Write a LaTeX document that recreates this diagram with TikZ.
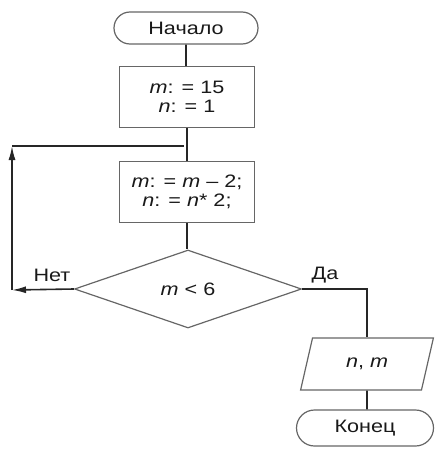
\documentclass[tikz,border=0pt]{standalone}
\usepackage{fontspec}
\setmainfont[FakeStretch=1.2]{Liberation Sans}
\usetikzlibrary{shapes,arrows.meta,positioning,calc}

\begin{document}
\begin{tikzpicture}[x=1pt, y=-1pt,
  font=\fontsize{18}{18.5}\selectfont, text=black!90,
  terminal/.style={draw=black!60, line width=1.2pt, rounded rectangle, minimum width=144pt, minimum height=32pt, inner sep=0pt},
  block/.style={draw=black!60, line width=1.2pt, rectangle, minimum width=135pt, minimum height=61pt, align=center, inner sep=0pt},
  decision/.style={draw=black!60, line width=1.2pt, diamond, minimum width=227pt, minimum height=78pt, inner sep=0pt},
  io/.style={draw=black!60, line width=1.2pt, trapezium, trapezium left angle=69, trapezium right angle=111, trapezium stretches=true, minimum width=133pt, minimum height=52pt, inner sep=0pt},
  line/.style={draw=black!85, line width=1.6pt},
  tip/.style={-{Latex[length=14pt, width=7pt]}}]
\useasboundingbox (0,0) rectangle (439,455);

% начало
\node[terminal] (start) at (186,28) {Начало};

% присваивания
\node[block] (init) at (187,97) {\textit{m}: = 15\\\textit{n}: = 1};
\node[block] (body) at (187,192) {\textit{m}: = \textit{m} – 2;\\\textit{n}: = \textit{n}* 2;};

% условие
\node[decision] (cond) at (188,289) {\textit{m} < 6};
\node (no) at (52,275) {Нет};
\node (yes) at (325,275) {Да};

% вывод и конец
\node[io] (out) at (367,364) {\textit{n}, \textit{m}};
\node[terminal, minimum width=137pt, minimum height=36pt] (finish) at (365,428) {Конец};

% точки цикла
\coordinate (join) at (184,146);
\coordinate (loopcorner) at (12,146);
\coordinate (nocorner) at (12,290);

% соединения
\draw[line] (start) -- (start |- init.north);
\draw[line] (init) -- (init |- body.north);
\draw[line] (body) -- (body |- cond.north);
\draw[line] (cond.east) -| (out.north);
\draw[line] (out) -- (out |- finish.north);
\draw[line, tip] (cond.west) -- (nocorner);
\draw[line, tip] (nocorner) -- (loopcorner);
\draw[line] (loopcorner) -- (join);
\end{tikzpicture}
\end{document}
